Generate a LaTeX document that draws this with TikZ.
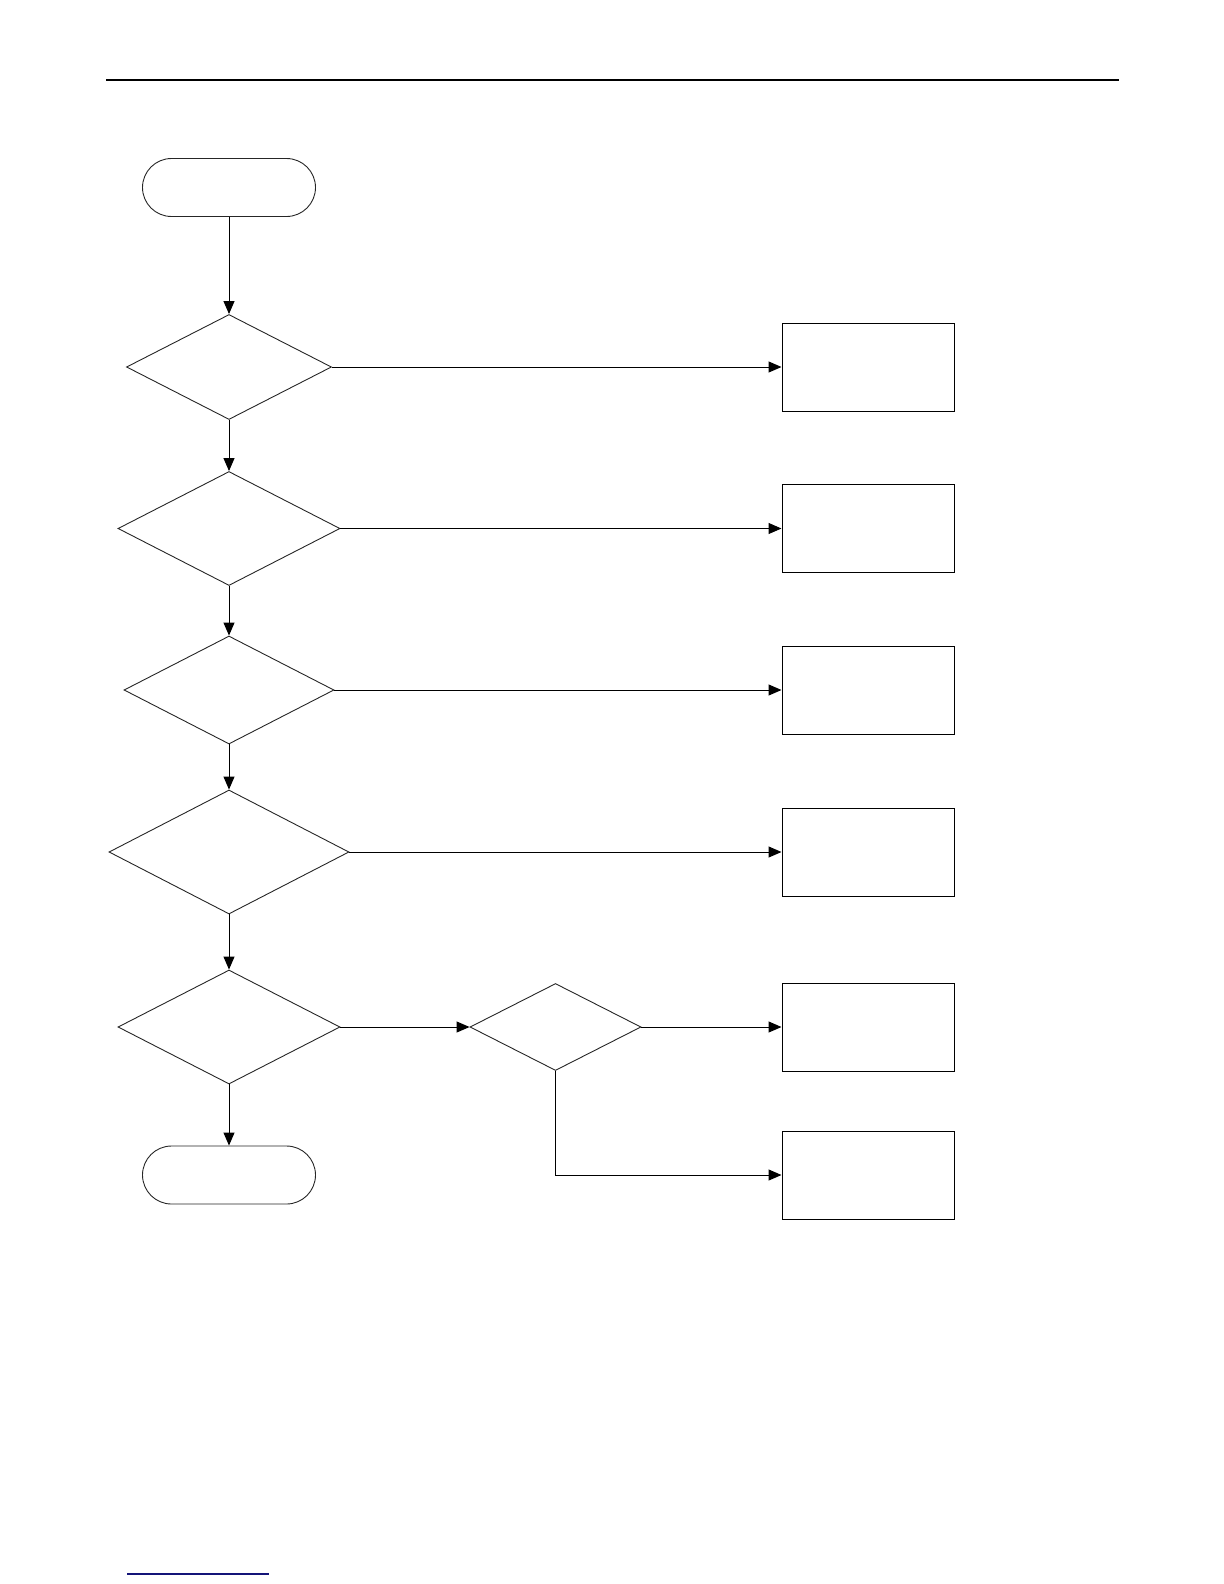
\documentclass[tikz,border=0pt]{standalone}
\usetikzlibrary{shapes.geometric,arrows.meta}
\definecolor{navyline}{RGB}{20,20,120}
\begin{document}
\begin{tikzpicture}[x=0.5pt,y=-0.5pt,
  decision/.style={diamond,draw=black!85,line width=0.45pt,inner sep=0pt,minimum width=#1},
  procbox/.style={rectangle,draw=black,line width=0.5pt,inner sep=0pt,minimum width=86pt,minimum height=44pt},
  terminal/.style={rectangle,draw=black!85,line width=0.45pt,rounded corners=14.5pt,inner sep=0pt,minimum width=86.5pt,minimum height=29pt},
  conn/.style={draw=black,line width=0.5pt,-{Triangle[length=6.5pt,width=5.5pt]}}]
\useasboundingbox (0,0) rectangle (1224,1584);
% header and footer rules
\coordinate (hl) at (106,80);
\coordinate (hr) at (1119,80);
\draw[line width=0.7pt] (hl) -- (hr);
\coordinate (fl) at (127,1574);
\coordinate (fr) at (269,1574);
\draw[navyline,line width=0.6pt] (fl) -- (fr);
% nodes
\node[terminal] (start) at (229,187.5) {};
\node[decision=102.5pt,minimum height=52.5pt] (d1) at (229,367) {};
\node[decision=111pt,minimum height=57pt] (d2) at (229,528.5) {};
\node[decision=105pt,minimum height=54pt] (d3) at (229,690) {};
\node[decision=120pt,minimum height=62pt] (d4) at (229,852) {};
\node[decision=111pt,minimum height=57pt] (d5) at (229,1027) {};
\node[decision=85.5pt,minimum height=43.5pt] (sd) at (555.5,1027) {};
\node[terminal] (end) at (229,1175) {};
\node[procbox] (b1) at (868,367) {};
\node[procbox] (b2) at (868,528.5) {};
\node[procbox] (b3) at (868,690) {};
\node[procbox] (b4) at (868,852) {};
\node[procbox] (b5) at (868,1027) {};
\node[procbox] (b6) at (868,1175) {};
% connectors
\draw[conn] (start.south) -- (d1.north);
\draw[conn] (d1.south) -- (d2.north);
\draw[conn] (d2.south) -- (d3.north);
\draw[conn] (d3.south) -- (d4.north);
\draw[conn] (d4.south) -- (d5.north);
\draw[conn] (d5.south) -- (end.north);
\draw[conn] (d1.east) -- (b1.west);
\draw[conn] (d2.east) -- (b2.west);
\draw[conn] (d3.east) -- (b3.west);
\draw[conn] (d4.east) -- (b4.west);
\draw[conn] (d5.east) -- (sd.west);
\draw[conn] (sd.east) -- (b5.west);
\draw[conn] (sd.south) |- (b6.west);
\end{tikzpicture}
\end{document}
